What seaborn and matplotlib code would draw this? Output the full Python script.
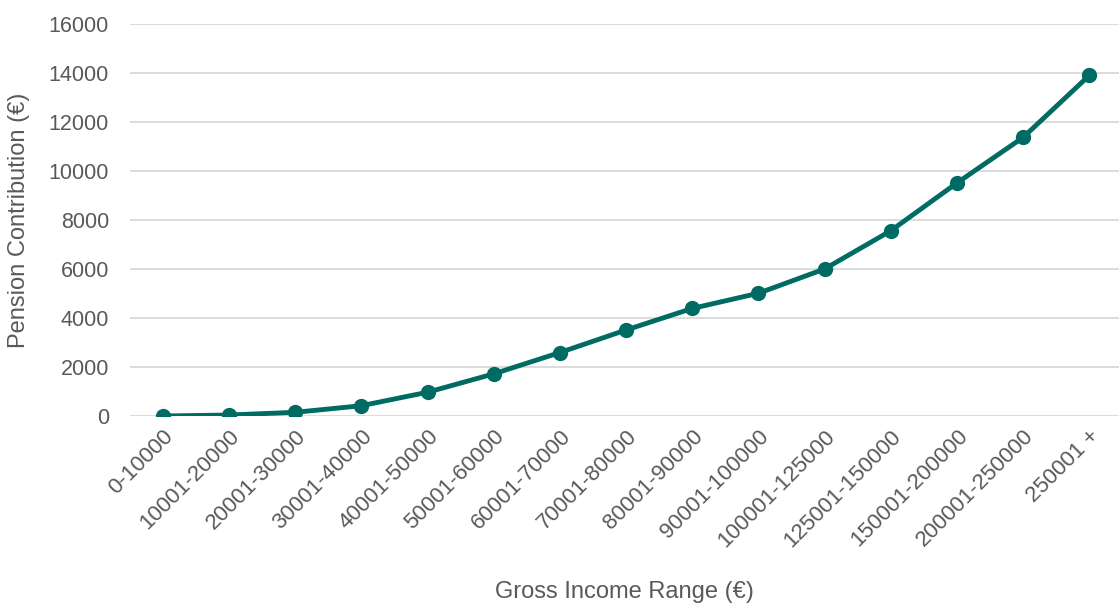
import matplotlib
matplotlib.use("Agg")
import matplotlib.pyplot as plt
import seaborn as sns
import pandas as pd

income_ranges = [
    "0-10000", "10001-20000", "20001-30000", "30001-40000", "40001-50000",
    "50001-60000", "60001-70000", "70001-80000", "80001-90000", "90001-100000",
    "100001-125000", "125001-150000", "150001-200000", "200001-250000", "250001 +",
]
contributions = [
    0, 40, 150, 420, 970,
    1720, 2590, 3510, 4390, 5010,
    6000, 7560, 9510, 11370, 13900,
]
y_ticks = [0, 2000, 4000, 6000, 8000, 10000, 12000, 14000, 16000]

sns.set_theme(style="white")
plt.rcParams["font.family"] = ["Liberation Sans", "DejaVu Sans"]

df = pd.DataFrame({"range": income_ranges, "contribution": contributions})
df["pos"] = range(len(df))

fig = plt.figure(figsize=(11.19, 6.08), dpi=100)
ax = fig.add_axes([0.116, 0.3158, 0.884, 0.6447])

teal = "#006B63"
grey = "#595959"

sns.lineplot(data=df, x="pos", y="contribution", ax=ax, color=teal,
             linewidth=3.5, marker="o", markersize=11, markeredgewidth=0,
             sort=False)

ax.set_xlim(-0.5, len(df) - 0.55)
ax.set_ylim(0, 16000)
ax.set_yticks(y_ticks)
ax.set_yticklabels([str(v) for v in y_ticks], fontsize=15.5, color=grey)
ax.set_xticks(df["pos"])
ax.set_xticklabels(income_ranges, rotation=45, ha="right",
                   rotation_mode="anchor", fontsize=16, color=grey)
ax.tick_params(axis="y", length=0, pad=15)
ax.tick_params(axis="x", length=0, pad=7)

ax.yaxis.grid(True, color="#D9D9D9", linewidth=1.3)
ax.set_axisbelow(True)
for s in ax.spines.values():
    s.set_visible(False)

ax.set_xlabel("Gross Income Range (€)", fontsize=17, color=grey)
ax.set_ylabel("Pension Contribution (€)", fontsize=17, color=grey)
ax.xaxis.set_label_coords(0.5, -0.448)
ax.yaxis.set_label_coords(-0.112, 0.5)
ax.xaxis.label.set_va("center")
ax.yaxis.label.set_va("center")

fig.savefig("out.png", dpi=100)
